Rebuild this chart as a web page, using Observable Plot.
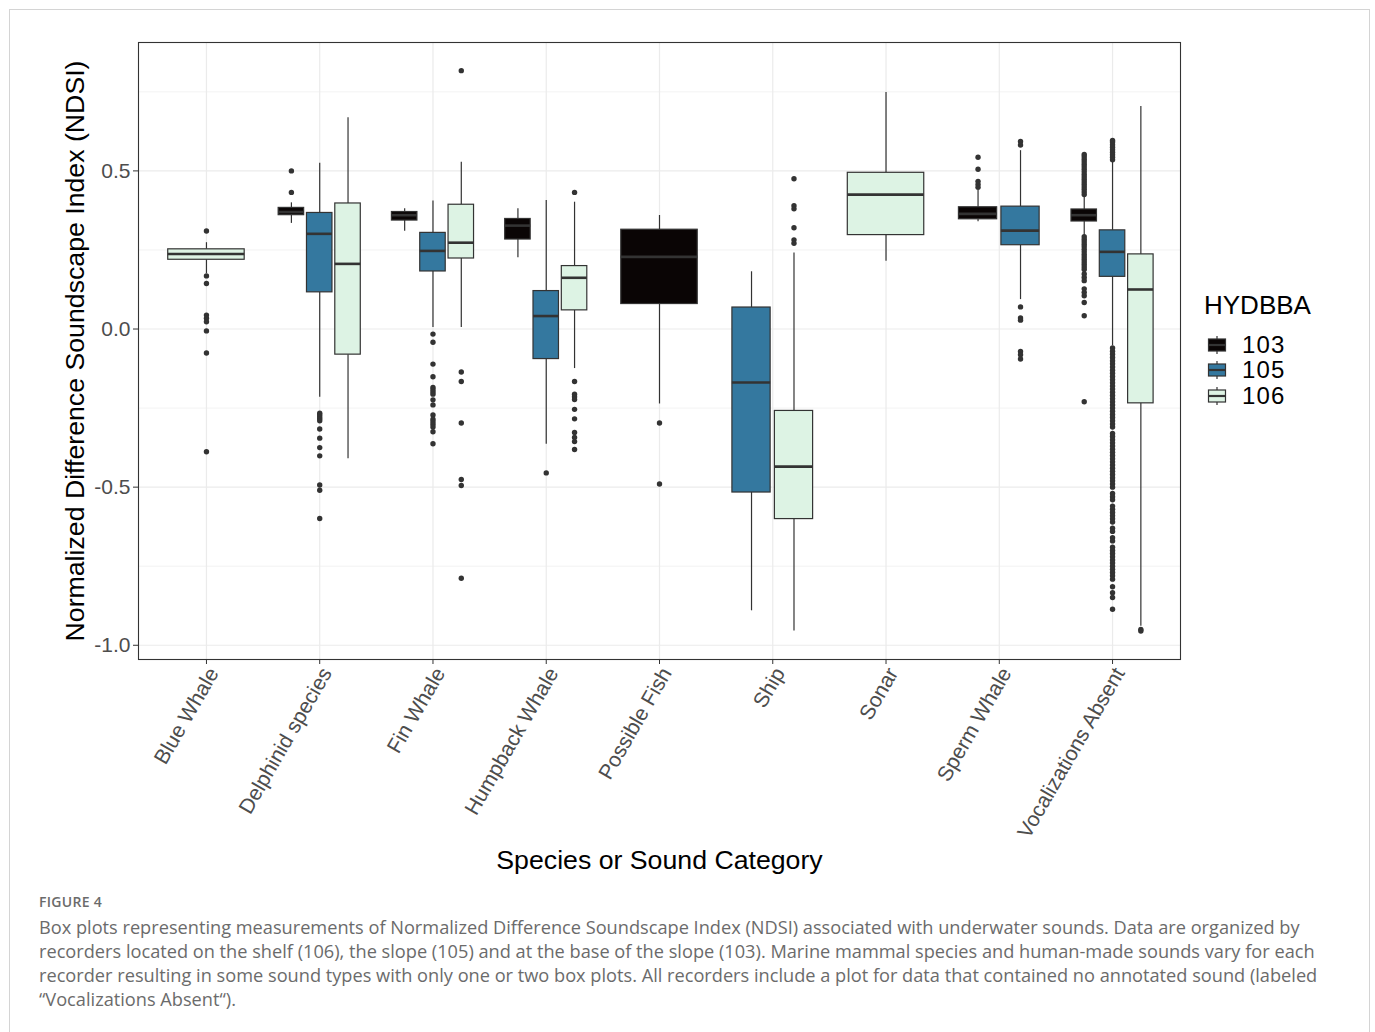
<!DOCTYPE html>
<html><head><meta charset="utf-8">
<script src="https://cdn.jsdelivr.net/npm/d3@7"></script>
<script src="https://cdn.jsdelivr.net/npm/@observablehq/plot@0.6"></script>
<style>
body{margin:0;background:#fff;width:1375px;height:1032px;overflow:hidden;position:relative;font-family:"Liberation Sans",Arial,sans-serif;}
#frame{position:absolute;left:9px;top:9px;width:1361px;height:1100px;border:1px solid #d4d4d4;box-sizing:border-box;}
#chart{position:absolute;left:0;top:0;}
#legend{position:absolute;left:1204px;top:290px;color:#000;}
#legend .title{font-size:26px;line-height:30px;margin-bottom:12px;}
#legend .row{display:flex;align-items:center;height:25.5px;}
#legend .row svg{margin-left:3px;}
#legend .row span{font-size:24px;letter-spacing:1.2px;margin-left:15px;line-height:24px;}
#caption{position:absolute;left:39px;top:893px;color:#6b6b6b;font-family:"Open Sans","Noto Sans",sans-serif;}
#caption .fig{font-size:14px;font-weight:600;letter-spacing:0.3px;line-height:18px;margin-bottom:4px;}
#caption .line{font-size:18.2px;line-height:24px;white-space:nowrap;}
</style></head><body>
<div id="frame"></div>
<div id="chart"></div>
<div id="legend"></div>
<div id="caption">
<div class="fig">FIGURE 4</div>
<div class="line">Box plots representing measurements of Normalized Difference Soundscape Index (NDSI) associated with underwater sounds. Data are organized by</div>
<div class="line">recorders located on the shelf (106), the slope (105) and at the base of the slope (103). Marine mammal species and human-made sounds vary for each</div>
<div class="line">recorder resulting in some sound types with only one or two box plots. All recorders include a plot for data that contained no annotated sound (labeled</div>
<div class="line">“Vocalizations Absent“).</div>
</div>
<script>
const categories = ["Blue Whale","Delphinid species","Fin Whale","Humpback Whale","Possible Fish","Ship","Sonar","Sperm Whale","Vocalizations Absent"];
const groups = ["103","105","106"];
const groupColors = ["#0a0505","#34789f","#ddf3e4"];
const yTicks = [-1, -0.5, 0, 0.5];
const yMinorTicks = [-0.75, -0.25, 0.25, 0.75];

const boxCategory = ["Blue Whale","Delphinid species","Delphinid species","Delphinid species","Fin Whale","Fin Whale","Fin Whale","Humpback Whale","Humpback Whale","Humpback Whale","Possible Fish","Ship","Ship","Sonar","Sperm Whale","Sperm Whale","Vocalizations Absent","Vocalizations Absent","Vocalizations Absent"];
const boxGroup    = ["106","103","105","106","103","105","106","103","105","106","103","105","106","106","103","105","103","105","106"];
const whiskerLow  = [0.175,0.334,-0.216,-0.410,0.309,0.005,0.005,0.225,-0.364,-0.125,-0.237,-0.891,-0.955,0.214,0.339,0.093,0.296,-0.053,-0.940];
const quart1      = [0.219,0.360,0.116,-0.081,0.343,0.182,0.223,0.283,-0.095,0.059,0.079,-0.517,-0.601,0.297,0.347,0.265,0.340,0.165,-0.235];
const medians     = [0.237,0.370,0.301,0.206,0.360,0.247,0.273,0.327,0.041,0.162,0.228,-0.169,-0.435,0.425,0.364,0.311,0.360,0.244,0.125];
const quart3      = [0.252,0.383,0.367,0.397,0.370,0.304,0.393,0.348,0.120,0.199,0.314,0.068,-0.259,0.494,0.385,0.387,0.378,0.312,0.236];
const whiskerHigh = [0.273,0.399,0.524,0.668,0.380,0.405,0.527,0.380,0.406,0.401,0.359,0.181,0.240,0.748,0.438,0.564,0.419,0.527,0.704];
const outliers = [
  [0.310,0.168,0.144,0.044,0.034,0.023,-0.006,-0.076,-0.388],
  [0.500,0.432],
  [-0.266,-0.272,-0.278,-0.284,-0.290,-0.316,-0.345,-0.375,-0.401,-0.493,-0.510,-0.599],
  [],
  [],
  [-0.016,-0.042,-0.111,-0.151,-0.185,-0.192,-0.199,-0.206,-0.224,-0.240,-0.272,-0.285,-0.293,-0.301,-0.310,-0.325,-0.363],
  [0.817,-0.136,-0.166,-0.297,-0.476,-0.495,-0.788],
  [],
  [-0.455],
  [0.432,-0.166,-0.206,-0.214,-0.223,-0.254,-0.284,-0.327,-0.343,-0.356,-0.381],
  [-0.297,-0.490],
  [],
  [0.475,0.390,0.380,0.320,0.282,0.271],
  [],
  [0.543,0.505,0.467,0.457,0.448],
  [0.593,0.582,0.070,0.035,0.028,-0.071,-0.081,-0.095],
  [0.425,0.433,0.441,0.449,0.457,0.465,0.473,0.481,0.489,0.497,0.505,0.513,0.521,0.529,0.537,0.545,0.552,
   0.292,0.284,0.276,0.268,0.260,0.252,0.244,0.236,0.228,0.220,0.212,0.204,0.196,0.188,
   0.174,0.163,0.153,0.127,0.116,0.105,0.084,0.042,-0.230],
  [0.535,0.543,0.551,0.559,0.567,0.575,0.583,0.591,0.596,
   -0.06,-0.07,-0.08,-0.09,-0.10,-0.11,-0.12,-0.13,-0.14,-0.15,-0.16,-0.17,-0.18,-0.19,-0.20,-0.21,-0.22,-0.23,-0.24,-0.25,-0.26,-0.27,-0.28,-0.29,-0.30,-0.31,
   -0.33,-0.34,-0.35,-0.36,-0.37,-0.38,-0.39,-0.40,-0.41,-0.42,-0.43,-0.44,-0.45,-0.46,-0.47,-0.48,-0.49,-0.50,
   -0.52,-0.53,-0.54,-0.56,-0.57,-0.58,-0.59,-0.60,-0.61,-0.63,-0.64,-0.66,-0.67,-0.69,-0.70,-0.71,-0.72,-0.73,-0.74,-0.75,-0.76,-0.77,-0.78,
   -0.791,-0.815,-0.834,-0.849,-0.886],
  [-0.950,-0.955]
];

// dodge layout (ggplot position_dodge2 with width 0.75, padding 0.1)
const dodgeWidth = 0.75, padding = 0.1;
const boxes = boxCategory.map((c, i) => {
  const ci = categories.indexOf(c);
  const members = boxGroup.filter((g, j) => boxCategory[j] === c);
  const n = members.length, k = members.indexOf(boxGroup[i]);
  const slot = dodgeWidth / n;
  const cx = ci - dodgeWidth / 2 + slot * (k + 0.5);
  const hw = slot * (1 - padding) / 2;
  return {cat: c, group: boxGroup[i], cx, x1: cx - hw, x2: cx + hw,
    lw: whiskerLow[i], q1: quart1[i], med: medians[i], q3: quart3[i], uw: whiskerHigh[i]};
});
const outlierRows = boxes.flatMap((b, i) => outliers[i].map(v => ({cx: b.cx, v})));

const ink = "#333333";
const chart = Plot.plot({
  width: 1375, height: 880,
  marginLeft: 138, marginRight: 195, marginTop: 42, marginBottom: 221,
  style: {fontFamily: "'Liberation Sans', Arial, sans-serif", background: "transparent"},
  x: {domain: [-0.6, 8.6], axis: null},
  y: {domain: [-1.045, 0.906], axis: null},
  color: {domain: groups, range: groupColors},
  marks: [
    Plot.gridY(yMinorTicks, {stroke: "#ebebeb", strokeOpacity: 1, strokeWidth: 0.6}),
    Plot.gridY(yTicks, {stroke: "#ebebeb", strokeOpacity: 1, strokeWidth: 1.2}),
    Plot.gridX(d3.range(categories.length), {stroke: "#ebebeb", strokeOpacity: 1, strokeWidth: 1.2}),
    Plot.ruleX(boxes, {x: "cx", y1: "q3", y2: "uw", stroke: ink, strokeWidth: 1.2}),
    Plot.ruleX(boxes, {x: "cx", y1: "lw", y2: "q1", stroke: ink, strokeWidth: 1.2}),
    Plot.rect(boxes, {x1: "x1", x2: "x2", y1: "q1", y2: "q3", fill: "group", stroke: ink, strokeWidth: 1.2}),
    Plot.ruleY(boxes, {y: "med", x1: "x1", x2: "x2", stroke: ink, strokeWidth: 2.6}),
    Plot.dot(outlierRows, {x: "cx", y: "v", r: 2.7, fill: ink, stroke: null}),
    Plot.frame({stroke: ink, strokeWidth: 1.1}),
    Plot.axisY({ticks: yTicks, tickFormat: d => d.toFixed(1), tickSize: 5, tickPadding: 3, fontSize: 21, fill: "#4d4d4d", stroke: ink, label: null}),
    Plot.axisX({ticks: d3.range(categories.length), tickFormat: i => categories[i], tickRotate: -60, tickSize: 5, tickPadding: 3, fontSize: 21, fill: "#4d4d4d", stroke: ink, label: null}),
    Plot.text(["Normalized Difference Soundscape Index (NDSI)"], {frameAnchor: "left", dx: -63, rotate: -90, fontSize: 26.7, fill: "#000", textAnchor: "middle", lineAnchor: "middle"}),
    Plot.text(["Species or Sound Category"], {frameAnchor: "bottom", dy: 201, fontSize: 26.7, fill: "#000", textAnchor: "middle", lineAnchor: "middle"})
  ]
});
// nudge rotated category labels to sit like ggplot's hjust=1 labels
chart.querySelectorAll("g[aria-label='x-axis tick label']").forEach(g => {
  const t = g.getAttribute("transform") || "";
  g.setAttribute("transform", `translate(7,2) ${t}`);
});
document.getElementById("chart").appendChild(chart);

// legend
const legend = document.getElementById("legend");
legend.innerHTML = '<div class="title">HYDBBA</div>' + groups.map((g, i) =>
  `<div class="row"><svg width="20" height="22" viewBox="0 0 20 22"><line x1="10" x2="10" y1="2" y2="20" stroke="${ink}" stroke-width="1.2"/><rect x="1.5" y="5" width="17" height="12" fill="${groupColors[i]}" stroke="${ink}" stroke-width="1.2"/><line x1="1.5" x2="18.5" y1="11" y2="11" stroke="${ink}" stroke-width="2.2"/></svg><span>${g}</span></div>`
).join("");
</script>
</body></html>
